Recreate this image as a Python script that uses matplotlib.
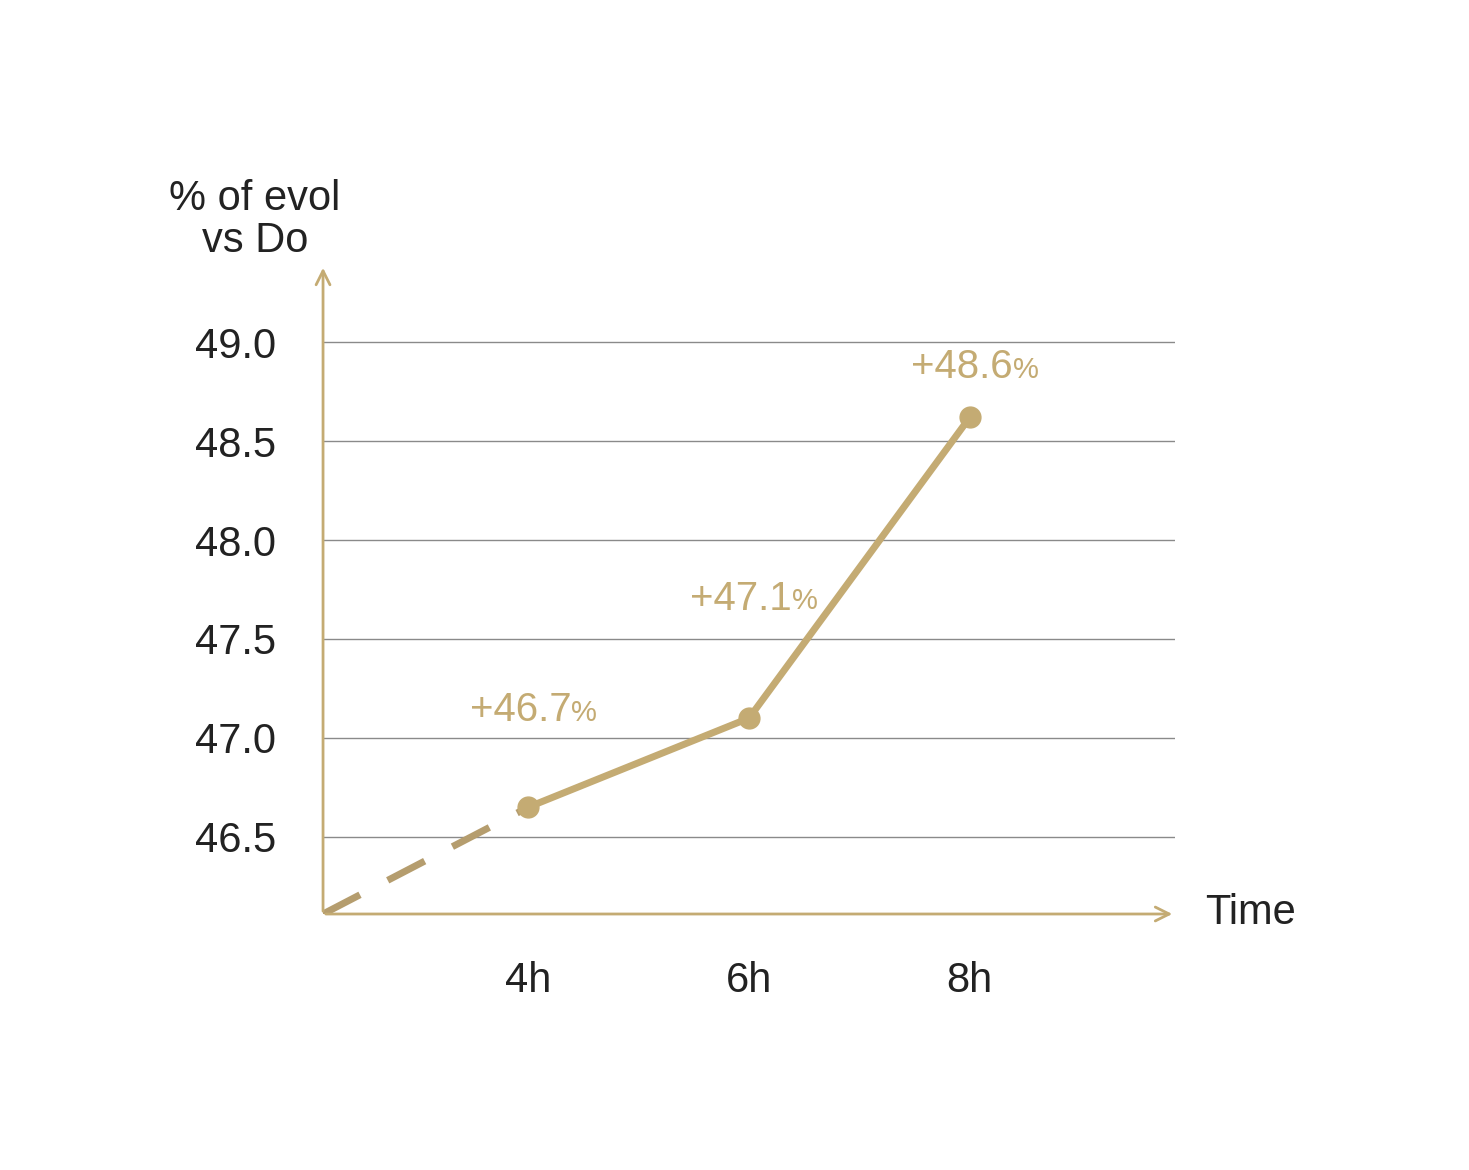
import matplotlib.pyplot as plt

hours = ["4h", "6h", "8h"]
positions = [1, 2, 3]
values = [46.65, 47.1, 48.62]
labels = ["+46.7", "+47.1", "+48.6"]
yticks = [46.5, 47.0, 47.5, 48.0, 48.5, 49.0]

GOLD = "#c4ab73"
DASH = "#b59d6e"
plt.rcParams['font.family'] = ['Liberation Sans', 'DejaVu Sans']

fig = plt.figure(figsize=(14.69, 11.70), dpi=100)
ax = fig.add_axes([0.2199, 0.2188, 0.58, 0.5547])
x0, x1 = 0.07, 3.93
y0, y1 = 46.11, 49.39
ax.set_xlim(x0, x1)
ax.set_ylim(y0, y1)
for s in ax.spines.values():
    s.set_visible(False)

# grid lines
for v in yticks:
    ax.plot([x0, x1], [v, v], color="#8a8a8a", lw=1, zorder=1)

# axes with arrows
ax.annotate("", xy=(x1, y0), xytext=(x0, y0),
            arrowprops=dict(arrowstyle="->", color=GOLD, lw=2, mutation_scale=25),
            annotation_clip=False)
ax.annotate("", xy=(x0, y1), xytext=(x0, y0),
            arrowprops=dict(arrowstyle="->", color=GOLD, lw=2, mutation_scale=25),
            annotation_clip=False)

# dashed lead-in and data line
ax.plot([x0, positions[0]], [y0, values[0]], color=DASH, lw=5,
        dashes=(6, 4.5), zorder=2)
ax.plot(positions, values, color=GOLD, lw=5, marker="o", ms=15, zorder=3)

offsets = [70, 86, 36]
for p, v, lab, off in zip(positions, values, labels, offsets):
    ax.annotate(lab, (p, v), xytext=(31, off), textcoords="offset points",
                ha="right", va="center", fontsize=29, color=GOLD)
    ax.annotate("%", (p, v), xytext=(31, off - 2), textcoords="offset points",
                ha="left", va="center", fontsize=21, color=GOLD)

ax.set_yticks(yticks)
ax.set_yticklabels([f"{v:.1f}" for v in yticks], fontsize=30, color="#222222")
ax.set_xticks(positions)
ax.set_xticklabels(hours, fontsize=30, color="#222222")
ax.tick_params(axis="y", length=0, pad=34)
ax.tick_params(axis="x", length=0, pad=34)

fig.text(255 / 1469, 1 - 220 / 1170, "% of evol\nvs Do", ha="center", va="center",
         fontsize=30, color="#222222", linespacing=1.05)
fig.text(1205 / 1469, 1 - 913 / 1170, "Time", ha="left", va="center",
         fontsize=30, color="#222222")

fig.savefig("out.png", dpi=100, facecolor="white")
